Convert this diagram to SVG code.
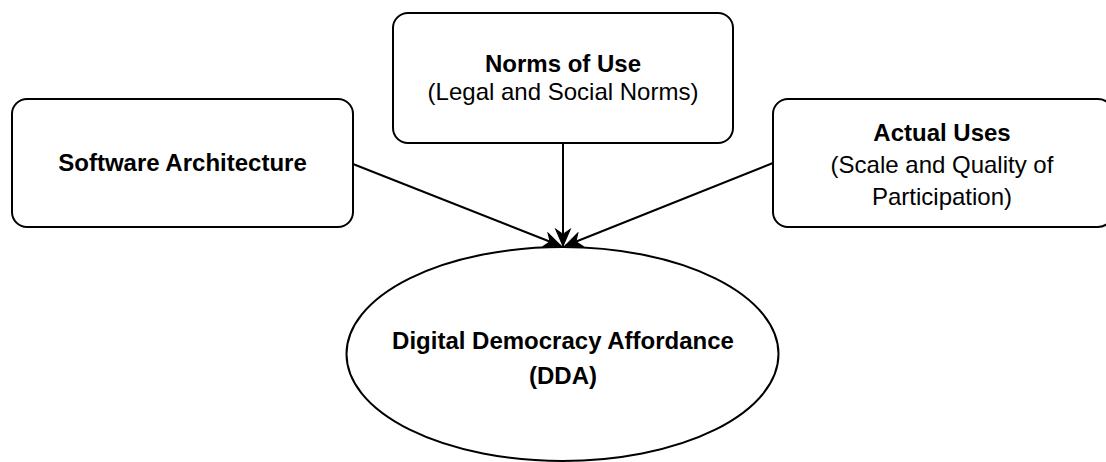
<svg xmlns="http://www.w3.org/2000/svg" width="1106" height="462" viewBox="0 0 1106 462">
<style>
.node{fill:#fff;stroke:#000;stroke-width:2}
.edge{fill:none;stroke:#000;stroke-width:2}
text{font-family:"Liberation Sans",Arial,sans-serif;font-size:24px;fill:#000;text-anchor:middle}
.b{font-weight:bold}
</style>
<defs>
<marker id="arr" markerUnits="userSpaceOnUse" markerWidth="20" markerHeight="20" viewBox="-16 -8 18 16" refX="0" refY="0" orient="auto">
<path d="M0,0 L-15,-6.5 L-10.5,0 L-15,6.5 Z" fill="#000" stroke="#000" stroke-width="1"/>
</marker>
</defs>
<rect width="1106" height="462" fill="#fff"/>
<g id="software-architecture">
<rect class="node" x="12" y="99" width="341" height="128" rx="15" ry="15"/>
<text class="b" x="182.5" y="171">Software Architecture</text>
</g>
<g id="norms-of-use">
<rect class="node" x="393" y="13" width="340" height="130" rx="15" ry="15"/>
<text class="b" x="563" y="71.5">Norms of Use</text>
<text x="563" y="99.5">(Legal and Social Norms)</text>
</g>
<g id="actual-uses">
<rect class="node" x="773" y="99" width="340" height="128" rx="15" ry="15"/>
<text class="b" x="942" y="141">Actual Uses</text>
<text x="942" y="172.5">(Scale and Quality of</text>
<text x="942" y="205">Participation)</text>
</g>
<g id="dda">
<ellipse class="node" cx="562.5" cy="354" rx="216" ry="107"/>
<text class="b" x="563" y="348.5">Digital Democracy Affordance</text>
<text class="b" x="563" y="383.5">(DDA)</text>
</g>
<g id="connectors">
<line class="edge" x1="353" y1="164" x2="561" y2="246" marker-end="url(#arr)"/>
<line class="edge" x1="563" y1="143" x2="563" y2="246" marker-end="url(#arr)"/>
<line class="edge" x1="773" y1="163" x2="565" y2="246" marker-end="url(#arr)"/>
</g>
</svg>
